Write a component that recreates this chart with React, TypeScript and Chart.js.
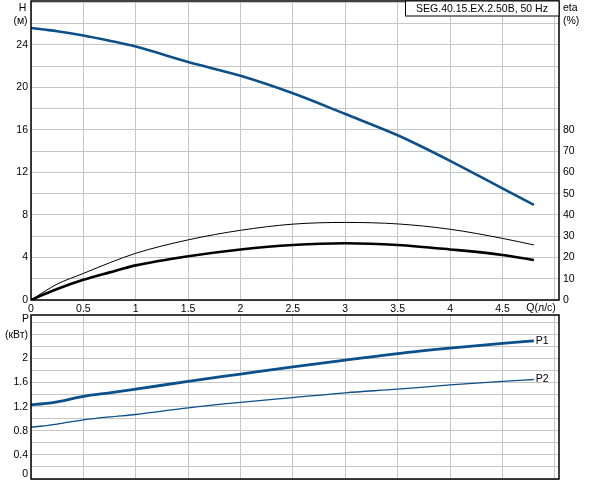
import { useEffect, useRef } from "react"
import { Chart, registerables } from "chart.js"

Chart.register(...registerables)

// Q, л/с
const flow = [0, 0.125, 0.25, 0.5, 0.75, 1, 1.5, 2, 2.5, 3, 3.5, 4, 4.5, 4.8]
// H, м
const head = [25.6, 25.45, 25.3, 24.9, 24.4, 23.85, 22.4, 21.1, 19.45, 17.5, 15.5, 13.1, 10.5, 8.95]
// eta, %
const etaPump = [0, 3.9, 7.5, 12.5, 17.5, 22, 28.3, 32.8, 35.7, 36.5, 35.8, 33.3, 29, 25.9]
const etaTotal = [0, 2.7, 5.2, 9.5, 13, 16.3, 20.6, 23.8, 25.9, 26.7, 25.9, 23.8, 21.2, 18.8]
// P, кВт
const powerP1 = [1.23, 1.25, 1.28, 1.37, 1.43, 1.49, 1.62, 1.74, 1.86, 1.97, 2.08, 2.17, 2.25, 2.29]
const powerP2 = [0.86, 0.88, 0.91, 0.98, 1.03, 1.07, 1.18, 1.27, 1.35, 1.43, 1.49, 1.56, 1.62, 1.65]

const flowTicks = [0, 0.5, 1, 1.5, 2, 2.5, 3, 3.5, 4, 4.5, 5]
const flowLabels = [0, 0.5, 1, 1.5, 2, 2.5, 3, 3.5, 4, 4.5]
const headTicks = [0, 2, 4, 6, 8, 10, 12, 14, 16, 18, 20, 22, 24, 26, 28]
const headLabels = [0, 4, 8, 12, 16, 20, 24]
const etaTicks = [0, 10, 20, 30, 40, 50, 60, 70, 80]
const powerTicks = [0, 0.2, 0.4, 0.6, 0.8, 1, 1.2, 1.4, 1.6, 1.8, 2, 2.2, 2.4, 2.6]
const powerLabels = [0.4, 0.8, 1.2, 1.6, 2]

const title = "SEG.40.15.EX.2.50B, 50 Hz"

const BLUE = "#0b4f8b"
const GRID = "#c6c6c6"
const FONT = "'Liberation Sans', Arial, sans-serif"
const FONT_SIZE = 10.5

const pts = (ys: number[]) => flow.map((q, i) => ({ x: q, y: ys[i] }))

const setTicks = (list: number[]) => (axis: any) => {
  axis.ticks = list.map((v) => ({ value: v }))
}

// fixed axis sizes, no overhang padding so the plot areas line up with the picture
const fit = (w: number | null, h: number | null) => (axis: any) => {
  if (w !== null) axis.width = w
  if (h !== null) axis.height = h
  axis.paddingTop = 0
  axis.paddingBottom = 0
  axis.paddingLeft = 0
  axis.paddingRight = 0
}

const frame = (chart: any) => {
  const { ctx, chartArea: a } = chart
  ctx.save()
  ctx.strokeStyle = "#000"
  ctx.lineWidth = 1.5
  ctx.strokeRect(a.left, a.top, a.right - a.left, a.bottom - a.top)
  ctx.restore()
}

const topText = {
  id: "topText",
  afterDraw(chart: any) {
    frame(chart)
    const { ctx, chartArea: a, scales } = chart
    ctx.save()
    ctx.font = `${FONT_SIZE}px ${FONT}`
    ctx.fillStyle = "#000"
    ctx.textBaseline = "middle"
    ctx.textAlign = "center"
    ctx.fillText("H", 22.5, 8)
    ctx.fillText("(м)", 20.5, 21)
    ctx.textAlign = "left"
    ctx.fillText("eta", 563, 8)
    ctx.fillText("(%)", 563, 21)
    ctx.textAlign = "right"
    ctx.fillText("Q(л/с)", scales.x.getPixelForValue(5) + 1, a.bottom + 8.5)
    // title box
    ctx.fillStyle = "#fff"
    ctx.fillRect(405, a.top, a.right - 405, 15)
    ctx.strokeStyle = "#000"
    ctx.lineWidth = 1
    ctx.strokeRect(405.5, a.top, a.right - 405.5, 15)
    ctx.fillStyle = "#000"
    ctx.textAlign = "center"
    ctx.fillText(title, (405 + a.right) / 2, a.top + 8)
    ctx.restore()
  },
}

const bottomText = {
  id: "bottomText",
  afterDraw(chart: any) {
    frame(chart)
    const { ctx, chartArea: a, scales } = chart
    ctx.save()
    ctx.font = `${FONT_SIZE}px ${FONT}`
    ctx.fillStyle = "#000"
    ctx.textBaseline = "middle"
    ctx.textAlign = "right"
    ctx.fillText("P", 29, 5)
    ctx.fillText("(кВт)", 28, 21)
    ctx.fillText("0", 28, a.bottom - 5)
    ctx.textAlign = "left"
    const last = flow.length - 1
    const ex = scales.x.getPixelForValue(flow[last]) + 2
    ctx.fillText("P1", ex, scales.y.getPixelForValue(powerP1[last]))
    ctx.fillText("P2", ex, scales.y.getPixelForValue(powerP2[last]))
    ctx.restore()
  },
}

const tickFont = { family: FONT, size: FONT_SIZE }

function TopChart() {
  const ref = useRef<HTMLCanvasElement>(null)
  useEffect(() => {
    if (!ref.current) return
    const chart = new Chart(ref.current, {
      type: "line",
      data: {
        datasets: [
          {
            label: "H",
            data: pts(head),
            yAxisID: "y",
            borderColor: BLUE,
            borderWidth: 2.6,
            pointRadius: 0,
            cubicInterpolationMode: "monotone",
          },
          {
            label: "eta",
            data: pts(etaPump),
            yAxisID: "eta",
            borderColor: "#000",
            borderWidth: 1,
            pointRadius: 0,
            cubicInterpolationMode: "monotone",
          },
          {
            label: "eta total",
            data: pts(etaTotal),
            yAxisID: "eta",
            borderColor: "#000",
            borderWidth: 2.6,
            pointRadius: 0,
            cubicInterpolationMode: "monotone",
          },
        ],
      },
      options: {
        animation: false,
        responsive: true,
        maintainAspectRatio: false,
        layout: { padding: { top: 1, left: 0, right: 0, bottom: 0 } },
        plugins: { legend: { display: false }, tooltip: { enabled: false } },
        scales: {
          x: {
            type: "linear",
            min: 0,
            max: 5.04,
            afterBuildTicks: setTicks(flowTicks),
            afterFit: fit(null, 14),
            grid: { color: GRID, drawTicks: false },
            border: { display: false },
            ticks: {
              color: "#000",
              font: tickFont,
              padding: 3,
              maxRotation: 0,
              autoSkip: false,
              callback: (v: any) => (flowLabels.includes(v) ? String(v) : ""),
            },
          },
          y: {
            type: "linear",
            position: "left",
            min: 0,
            max: 28.14,
            afterBuildTicks: setTicks(headTicks),
            afterFit: fit(31, null),
            grid: { color: GRID, drawTicks: false },
            border: { display: false },
            ticks: {
              color: "#000",
              font: tickFont,
              padding: 3,
              autoSkip: false,
              callback: (v: any) => (headLabels.includes(v) ? String(v) : ""),
            },
          },
          eta: {
            type: "linear",
            position: "right",
            min: 0,
            max: 140.7,
            afterBuildTicks: setTicks(etaTicks),
            afterFit: fit(33, null),
            grid: { display: false, drawTicks: false },
            border: { display: false },
            ticks: { color: "#000", font: tickFont, padding: 4, autoSkip: false },
          },
        },
      },
      plugins: [topText],
    })
    return () => chart.destroy()
  }, [])
  return (
    <div style={{ position: "absolute", left: 0, top: 0, width: 592, height: 314 }}>
      <canvas ref={ref} />
    </div>
  )
}

function BottomChart() {
  const ref = useRef<HTMLCanvasElement>(null)
  useEffect(() => {
    if (!ref.current) return
    const chart = new Chart(ref.current, {
      type: "line",
      data: {
        datasets: [
          {
            label: "P1",
            data: pts(powerP1),
            borderColor: BLUE,
            borderWidth: 2.8,
            pointRadius: 0,
            cubicInterpolationMode: "monotone",
          },
          {
            label: "P2",
            data: pts(powerP2),
            borderColor: BLUE,
            borderWidth: 1.3,
            pointRadius: 0,
            cubicInterpolationMode: "monotone",
          },
        ],
      },
      options: {
        animation: false,
        responsive: true,
        maintainAspectRatio: false,
        layout: { padding: { top: 1, left: 0, right: 33, bottom: 0 } },
        plugins: { legend: { display: false }, tooltip: { enabled: false } },
        scales: {
          x: {
            type: "linear",
            min: 0,
            max: 5.04,
            afterBuildTicks: setTicks(flowTicks),
            afterFit: fit(null, 1),
            grid: { color: GRID, drawTicks: false },
            border: { display: false },
            ticks: { display: false },
          },
          y: {
            type: "linear",
            min: 0,
            max: 2.72,
            afterBuildTicks: setTicks(powerTicks),
            afterFit: fit(31, null),
            grid: { color: GRID, drawTicks: false },
            border: { display: false },
            ticks: {
              color: "#000",
              font: tickFont,
              padding: 3,
              autoSkip: false,
              callback: (v: any) => (powerLabels.includes(v) ? String(v) : ""),
            },
          },
        },
      },
      plugins: [bottomText],
    })
    return () => chart.destroy()
  }, [])
  return (
    <div style={{ position: "absolute", left: 0, top: 314, width: 592, height: 166 }}>
      <canvas ref={ref} />
    </div>
  )
}

export default function App() {
  return (
    <div
      style={{
        position: "fixed",
        left: 0,
        top: 0,
        width: 592,
        height: 480,
        background: "#fff",
        overflow: "hidden",
      }}
    >
      <TopChart />
      <BottomChart />
    </div>
  )
}
